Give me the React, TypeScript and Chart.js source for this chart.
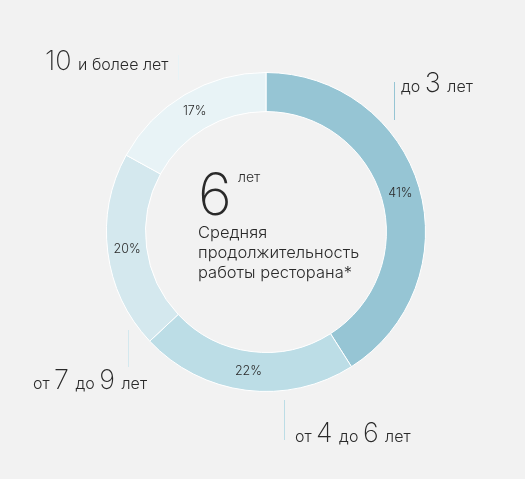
import React, { useEffect, useRef } from 'react';
import { Chart, registerables } from 'chart.js';

Chart.register(...registerables);

const categories = ['до 3 лет', 'от 4 до 6 лет', 'от 7 до 9 лет', '10 и более лет'];
const shares = [41, 22, 20, 17];
const colors = ['#96c5d4', '#bcdde6', '#d4e8ee', '#e8f3f6'];

const centerValue = '6';
const centerUnit = 'лет';
const centerCaption = ['Средняя', 'продолжительность', 'работы ресторана*'];

// where each category caption sits: text x, baseline y, guide line x, line top, line bottom
const calloutLayout = [
  { x: 401, y: 92, lx: 394, y1: 82, y2: 120 },
  { x: 295, y: 442, lx: 284, y1: 400, y2: 440 },
  { x: 33, y: 389, lx: 128, y1: 330, y2: 367 },
  { x: 45, y: 70, lx: 178, y1: 55, y2: 80 },
];

const FONT = 'Inter, "Noto Sans", sans-serif';

const labelsPlugin = {
  id: 'labels',
  afterDraw(chart: Chart) {
    const { ctx } = chart;
    const meta = chart.getDatasetMeta(0);
    ctx.save();
    ctx.fillStyle = '#2a2a2a';
    ctx.textAlign = 'center';
    ctx.textBaseline = 'middle';
    ctx.font = `300 12.5px ${FONT}`;
    meta.data.forEach((arc: any, i: number) => {
      const p = arc.tooltipPosition();
      ctx.fillText(shares[i] + '%', p.x, p.y);
    });

    // category callouts
    ctx.textAlign = 'left';
    ctx.textBaseline = 'alphabetic';
    categories.forEach((cat, i) => {
      const l = calloutLayout[i];
      ctx.strokeStyle = colors[i];
      ctx.lineWidth = 1;
      ctx.beginPath();
      ctx.moveTo(l.lx + 0.5, l.y1);
      ctx.lineTo(l.lx + 0.5, l.y2);
      ctx.stroke();
      let x = l.x;
      cat.split(/(\d+)/).filter(Boolean).forEach((part) => {
        const isNum = /^\d+$/.test(part);
        ctx.font = isNum ? `200 27px ${FONT}` : `300 16px ${FONT}`;
        ctx.fillText(part, x, l.y);
        x += ctx.measureText(part).width + (isNum ? 2 : 0);
      });
    });

    // centre text
    const cx = meta.data[0].x;
    const cy = meta.data[0].y;
    ctx.font = `200 58px ${FONT}`;
    ctx.fillText(centerValue, cx - 68, cy - 17);
    ctx.font = `300 14px ${FONT}`;
    ctx.fillText(centerUnit, cx - 28, cy - 50);
    ctx.font = `300 16.5px ${FONT}`;
    centerCaption.forEach((line, i) => {
      ctx.fillText(line, cx - 68, cy + 6 + i * 20);
    });
    ctx.restore();
  },
};

export default function App() {
  const canvasRef = useRef<HTMLCanvasElement>(null);

  useEffect(() => {
    document.body.style.margin = '0';
    const ctx = canvasRef.current?.getContext('2d');
    let chart: Chart;
    if (ctx) {
      chart = new Chart(ctx, {
        type: 'doughnut',
        data: {
          labels: categories,
          datasets: [
            {
              data: shares,
              backgroundColor: colors,
              borderColor: '#ffffff',
              borderWidth: 1,
              hoverOffset: 0,
            },
          ],
        },
        options: {
          animation: false,
          responsive: false,
          maintainAspectRatio: false,
          cutout: '75.5%',
          layout: { padding: { top: 72, bottom: 87, left: 106, right: 99 } },
          plugins: {
            legend: { display: false },
            tooltip: { enabled: false },
          },
        },
        plugins: [labelsPlugin],
      });
    }
    return () => {
      chart?.destroy();
    };
  }, []);

  return (
    <div style={{ width: 525, height: 479, background: '#f2f2f2' }}>
      <canvas ref={canvasRef} width={525} height={479}></canvas>
    </div>
  );
}
